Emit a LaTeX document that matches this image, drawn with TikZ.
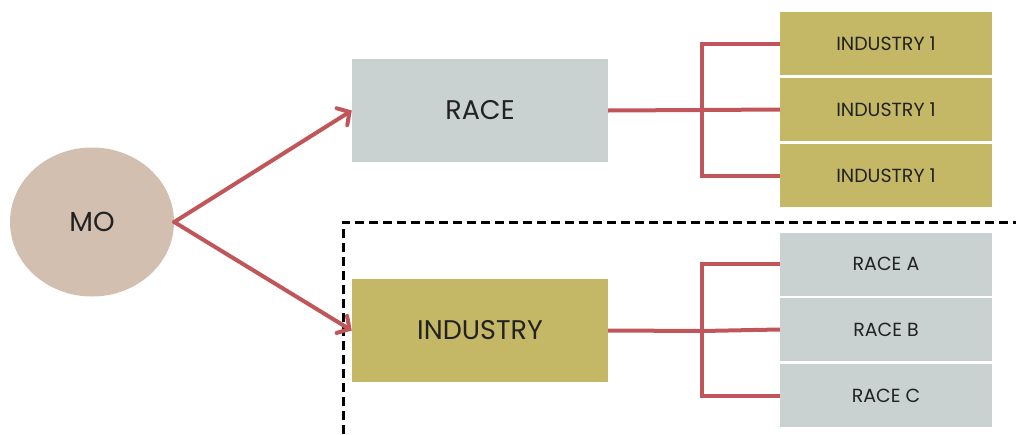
\documentclass[tikz,border=0pt]{standalone}
\usepackage{fontspec}
\setmainfont{Poppins}
\usetikzlibrary{arrows.meta,shapes.geometric}
\definecolor{moclr}{HTML}{D2BFB0}
\definecolor{raceclr}{HTML}{C9D2D1}
\definecolor{indclr}{HTML}{C4B866}
\definecolor{linkclr}{HTML}{C0565A}
\definecolor{txtclr}{HTML}{222222}
\tikzset{
  bigbox/.style={rectangle, minimum width=256pt, minimum height=103pt, inner sep=0pt,
    text=txtclr, font=\fontsize{27}{30}\selectfont},
  smallbox/.style={rectangle, minimum width=212pt, minimum height=63pt, inner sep=0pt,
    text=txtclr, font=\fontsize{19}{22}\selectfont},
  link/.style={draw=linkclr, line width=4pt},
  arrowlink/.style={link, line cap=round, -{Straight Barb[length=9pt,width=20pt,line cap=round]}},
}
\begin{document}
\begin{tikzpicture}[x=1pt,y=-1pt]
  \useasboundingbox (0,0) rectangle (1016,434);
  % central topic
  \node (mo) [ellipse, fill=moclr, minimum width=164pt, minimum height=149pt, inner sep=0pt,
    text=txtclr, font=\fontsize{27.5}{30}\selectfont] at (92,222) {MO};
  % first-level groupings
  \node (race) [bigbox, fill=raceclr] at (480,110.5) {RACE};
  \node (ind) [bigbox, fill=indclr] at (480,330.5) {INDUSTRY};
  % second level under RACE
  \node (i1) [smallbox, fill=indclr] at (886,43.5) {INDUSTRY 1};
  \node (i2) [smallbox, fill=indclr] at (886,109.5) {INDUSTRY 1};
  \node (i3) [smallbox, fill=indclr] at (886,175.5) {INDUSTRY 1};
  % second level under INDUSTRY
  \node (ra) [smallbox, fill=raceclr] at (886,264) {RACE A};
  \node (rb) [smallbox, fill=raceclr] at (886,329.5) {RACE B};
  \node (rc) [smallbox, fill=raceclr] at (886,395.5) {RACE C};
  % dashed separator around the lower branch
  \coordinate (dtop) at (343,222);
  \draw[black, line width=3pt, dash pattern=on 9pt off 5pt] (343,434) -- (dtop) -- (1016,222);
  % arrows from the centre
  \draw[arrowlink] (mo.east) -- (race.west);
  \draw[arrowlink] (mo.east) -- (ind.west);
  % brackets
  \coordinate (bk1) at (702,110);
  \coordinate (bk2) at (702,331);
  \draw[link] (race.east) -- (bk1);
  \draw[link] (i1.west) -| (bk1) |- (i3.west);
  \draw[link] (bk1) -- (i2.west);
  \draw[link] (ind.east) -- (bk2);
  \draw[link] (ra.west) -| (bk2) |- (rc.west);
  \draw[link] (bk2) -- (rb.west);
\end{tikzpicture}
\end{document}
